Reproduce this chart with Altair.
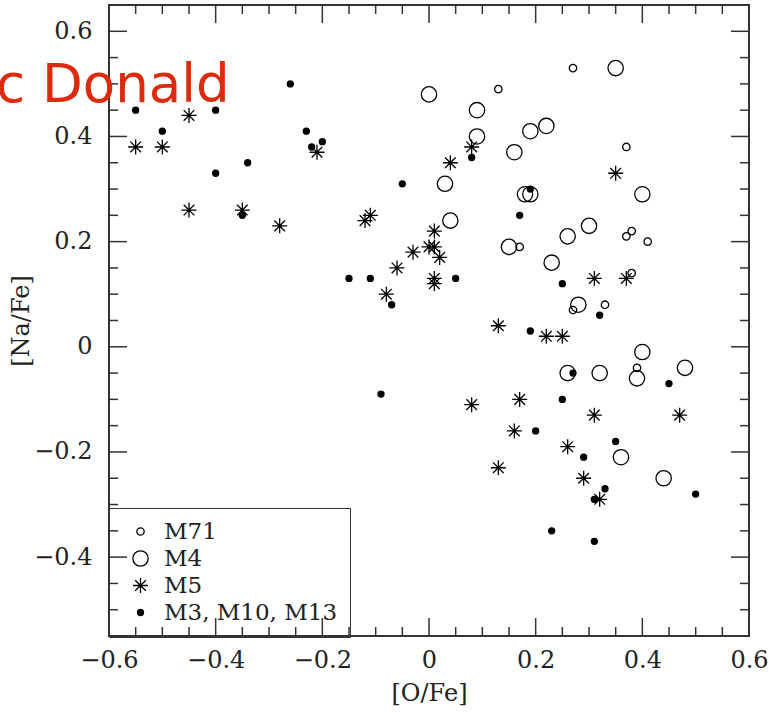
import altair as alt
import pandas as pd

# ---------------- data ----------------
groups = ["M71", "M4", "M5", "M3, M10, M13"]

m71_o = [0.27, 0.13, 0.37, 0.17, 0.38, 0.37, 0.41, 0.38, 0.33, 0.27, 0.39]
m71_na = [0.53, 0.49, 0.38, 0.19, 0.22, 0.21, 0.20, 0.14, 0.08, 0.07, -0.04]

m4_o = [0.35, 0.00, 0.09, 0.09, 0.19, 0.22, 0.16, 0.03, 0.40, 0.18, 0.19, 0.04,
        0.30, 0.26, 0.15, 0.23, 0.28, 0.40, 0.26, 0.32, 0.39, 0.48, 0.36, 0.44]
m4_na = [0.53, 0.48, 0.45, 0.40, 0.41, 0.42, 0.37, 0.31, 0.29, 0.29, 0.29, 0.24,
         0.23, 0.21, 0.19, 0.16, 0.08, -0.01, -0.05, -0.05, -0.06, -0.04, -0.21, -0.25]

m5_o = [-0.55, -0.50, -0.45, -0.45, -0.35, -0.28, -0.21, -0.12, -0.11, -0.08, -0.06,
        -0.03, 0.00, 0.01, 0.01, 0.02, 0.01, 0.01, 0.04, 0.08, 0.35, 0.31, 0.37, 0.13,
        0.22, 0.25, 0.08, 0.17, 0.16, 0.13, 0.31, 0.47, 0.26, 0.29, 0.32]
m5_na = [0.38, 0.38, 0.44, 0.26, 0.26, 0.23, 0.37, 0.24, 0.25, 0.10, 0.15,
         0.18, 0.19, 0.19, 0.22, 0.17, 0.13, 0.12, 0.35, 0.38, 0.33, 0.13, 0.13, 0.04,
         0.02, 0.02, -0.11, -0.10, -0.16, -0.23, -0.13, -0.13, -0.19, -0.25, -0.29]

m3_o = [-0.55, -0.50, -0.40, -0.40, -0.26, -0.34, -0.23, -0.22, -0.20, -0.35, -0.05,
        0.08, 0.19, 0.17, -0.15, -0.11, 0.05, -0.07, 0.25, 0.32, 0.27, 0.45, 0.19,
        -0.09, 0.25, 0.20, 0.35, 0.29, 0.33, 0.31, 0.50, 0.23, 0.31]
m3_na = [0.45, 0.41, 0.45, 0.33, 0.50, 0.35, 0.41, 0.38, 0.39, 0.25, 0.31,
         0.36, 0.30, 0.25, 0.13, 0.13, 0.13, 0.08, 0.12, 0.06, -0.05, -0.07, 0.03,
         -0.09, -0.10, -0.16, -0.18, -0.21, -0.27, -0.29, -0.28, -0.35, -0.37]

x_major = [-0.6, -0.4, -0.2, 0.0, 0.2, 0.4, 0.6]
x_minor = [-0.55, -0.5, -0.45, -0.35, -0.3, -0.25, -0.15, -0.1, -0.05,
           0.05, 0.1, 0.15, 0.25, 0.3, 0.35, 0.45, 0.5, 0.55]
y_major = [-0.4, -0.2, 0.0, 0.2, 0.4, 0.6]
y_minor = [-0.5, -0.45, -0.35, -0.3, -0.25, -0.15, -0.1, -0.05,
           0.05, 0.1, 0.15, 0.25, 0.3, 0.35, 0.45, 0.5, 0.55]

overlay_text = ["c Donald"]

rows = []
for g, xs, ys in [(groups[0], m71_o, m71_na), (groups[1], m4_o, m4_na),
                  (groups[2], m5_o, m5_na), (groups[3], m3_o, m3_na)]:
    for a, b in zip(xs, ys):
        rows.append({"o": a, "na": b, "g": g})
df = pd.DataFrame(rows)

# ---------------- chart ----------------
W, H = 640, 631
SERIF = "DejaVu Serif"
INK = "#222222"

x_scale = alt.Scale(domain=[-0.6, 0.6], nice=False, zero=False)
y_scale = alt.Scale(domain=[-0.55, 0.65], nice=False, zero=False)

x_axis = alt.Axis(values=x_major, format=".1~f", title="[O/Fe]", domain=False,
                  ticks=False, grid=False, labelPadding=12, titlePadding=9,
                  labelFlush=False)
y_axis = alt.Axis(values=y_major, format=".1~f", title="[Na/Fe]", domain=False,
                  ticks=False, grid=False, labelPadding=17, titlePadding=0,
                  labelFlush=False)

ASTER = "M0,-1L0,1M-1,0L1,0M-0.71,-0.71L0.71,0.71M-0.71,0.71L0.71,-0.71"

legend = alt.Legend(
    title=None, orient="none", legendX=0, legendY=503,
    strokeColor="#333333", padding=12,
    labelFont=SERIF, labelFontSize=23, labelColor=INK, labelLimit=400,
    symbolStrokeWidth=1.3,
    rowPadding=3, labelOffset=12, symbolOffset=8,
)

text_layer = alt.Chart(pd.DataFrame({"t": overlay_text})).mark_text(
    font="DejaVu Sans", fontSize=53, color="#dc2a0c", align="left",
    baseline="alphabetic",
).encode(text="t:N", x=alt.value(-113), y=alt.value(97))

points = alt.Chart(df).mark_point(
    filled=False, strokeWidth=1.3, opacity=1,
).encode(
    x=alt.X("o:Q", scale=x_scale, axis=x_axis),
    y=alt.Y("na:Q", scale=y_scale, axis=y_axis),
    shape=alt.Shape("g:N", scale=alt.Scale(domain=groups,
                    range=["circle", "circle", ASTER, "circle"]), legend=legend),
    size=alt.Size("g:N", scale=alt.Scale(type="ordinal", domain=groups,
                  range=[55, 235, 225, 36]), legend=legend),
    fill=alt.Fill("g:N", scale=alt.Scale(domain=groups,
                  range=["transparent", "transparent", "transparent", "black"]),
                  legend=legend),
    stroke=alt.Stroke("g:N", scale=alt.Scale(domain=groups,
                      range=["black", "black", "black", "black"]),
                      legend=legend),
)


def ticks(vals, side, length):
    d = pd.DataFrame({"v": vals})
    base = alt.Chart(d).mark_rule(color="#333333", strokeWidth=1.5)
    if side == "bottom":
        return base.encode(x=alt.X("v:Q", scale=x_scale, axis=x_axis),
                           y=alt.value(H), y2=alt.value(H - length))
    if side == "top":
        return base.encode(x=alt.X("v:Q", scale=x_scale, axis=x_axis),
                           y=alt.value(0), y2=alt.value(length))
    if side == "left":
        return base.encode(y=alt.Y("v:Q", scale=y_scale, axis=y_axis),
                           x=alt.value(0), x2=alt.value(length))
    return base.encode(y=alt.Y("v:Q", scale=y_scale, axis=y_axis),
                       x=alt.value(W), x2=alt.value(W - length))


tick_layers = []
for side in ["bottom", "top"]:
    tick_layers.append(ticks(x_major, side, 18))
    tick_layers.append(ticks(x_minor, side, 9))
for side in ["left", "right"]:
    tick_layers.append(ticks(y_major, side, 18))
    tick_layers.append(ticks(y_minor, side, 9))

chart = alt.layer(points, *tick_layers, text_layer).properties(
    width=W, height=H,
    autosize=alt.AutoSizeParams(type="none"),
    padding={"left": 109, "top": 5, "right": 20, "bottom": 81},
).configure_view(
    stroke="#333333", strokeWidth=2,
).configure_axis(
    labelFont=SERIF, labelFontSize=24, labelColor=INK,
    titleFont=SERIF, titleFontSize=24, titleColor=INK, titleFontWeight="normal",
)

chart.save("out.html", embed_options={"renderer": "svg", "actions": False})
